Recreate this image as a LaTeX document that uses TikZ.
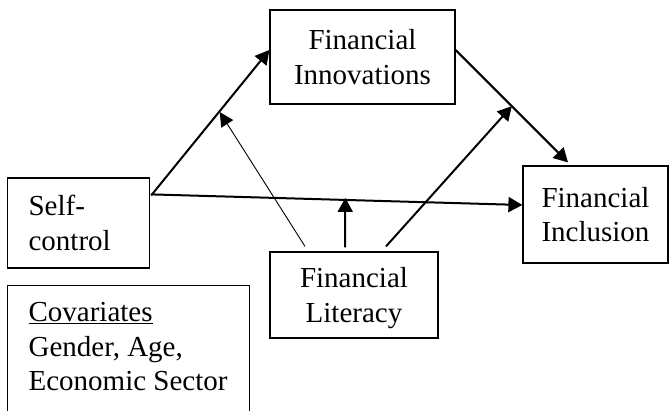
\documentclass[tikz,border=0pt]{standalone}
\usepackage{fontspec}
\setmainfont{Liberation Serif}
\usetikzlibrary{arrows.meta,calc}
\begin{document}
\begin{tikzpicture}[x=1pt,y=-1pt,
  every node/.style={font=\fontsize{29}{34.5}\selectfont},
  box/.style={draw, line width=1.2pt, inner sep=0pt, align=center},
  link/.style={line width=2pt, -{Triangle[length=14pt,width=15pt]}},
  thinlink/.style={line width=0.9pt, -{Triangle[length=14pt,width=14pt]}}]
\useasboundingbox (0,0) rectangle (670,411);
\clip (0,0) rectangle (670,411);

% variables
\node[box, minimum width=185pt, minimum height=94pt] (inn) at (362.5,57) {Financial\\Innovations};
\node[box, anchor=west, align=left, text width=100pt, inner xsep=21pt, minimum height=90pt] (sc) at (7,223) {Self-\\control};
\node[box, minimum width=145pt, minimum height=97pt] (inc) at (595.5,214.5) {Financial\\Inclusion};
\node[box, minimum width=168pt, minimum height=86pt] (lit) at (354,295) {Financial\\Literac\smash{y}};
\node[box, anchor=north west, inner xsep=21pt, inner ysep=17pt] (cov) at (7,285)
  {\begin{minipage}[t][130pt][t]{200pt}\underline{Covariates}\\Gender, Age,\\Economic Sector\end{minipage}};

% end points of the main paths
\coordinate (a1s) at ($(sc.north east)+(1,18)$);
\coordinate (a1e) at ($(inn.west)+(0,-7)$);
\coordinate (a2s) at ($(sc.north east)+(1,17)$);
\coordinate (a2e) at ($(inc.west)+(0,-9.5)$);
\coordinate (a6s) at ($(inn.east)+(0,-7)$);
\coordinate (a6e) at ($(inc.north)+(-27.5,-3)$);

% direct and mediated paths
\draw[link] (a1s) -- (a1e);
\draw[link] (a2s) -- (a2e);
\draw[link] (a6s) -- (a6e);

% moderation by financial literacy
\coordinate (m1) at ($(a1s)!0.58!(a1e)+(0,1)$);
\coordinate (m2) at ($(a2s)!0.523!(a2e)+(0,-2)$);
\coordinate (m3) at ($(a6s)!0.5!(a6e)$);
\draw[thinlink] ($(lit.north)+(-49,-5)$) -- (m1);
\draw[link] ($(lit.north)+(-9,-4)$) -- (m2);
\draw[link] ($(lit.north)+(32,-5)$) -- (m3);
\end{tikzpicture}
\end{document}
